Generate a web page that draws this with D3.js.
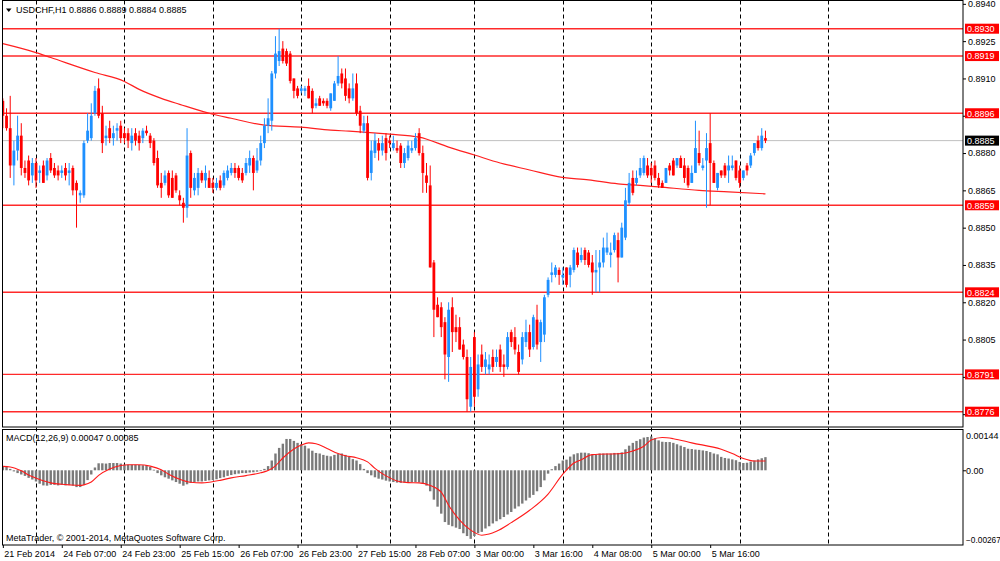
<!DOCTYPE html>
<html><head><meta charset="utf-8">
<script src="https://cdn.jsdelivr.net/npm/d3@7"></script>
<style>
html,body{margin:0;padding:0;background:#fff;}
svg{display:block;}
text{font-family:"Liberation Sans",Arial,sans-serif;font-size:9px;fill:#000;}
</style>
</head><body>
<svg id="c" width="1000" height="561"></svg>
<script>
// ---------------- DATA ----------------
const symbolTitle = "USDCHF,H1";
const lastOHLC = ["0.8886", "0.8889", "0.8884", "0.8885"];
const macdTitle = "MACD(12,26,9) 0.00047 0.00085";
const copyrightText = "MetaTrader, \u00A9 2001-2014, MetaQuotes Software Corp.";

// trading sessions (one per day) : label, number of hourly bars
const sessionDays = ["21 Feb", "24 Feb", "25 Feb", "26 Feb", "27 Feb", "28 Feb", "3 Mar", "4 Mar", "5 Mar", "6 Mar"];
const sessionBars = [9, 24, 24, 24, 24, 23, 24, 24, 24, 8];

const timeTickLabels = ["21 Feb 2014", "24 Feb 07:00", "24 Feb 23:00", "25 Feb 15:00", "26 Feb 07:00",
  "26 Feb 23:00", "27 Feb 15:00", "28 Feb 07:00", "3 Mar 00:00", "3 Mar 16:00", "4 Mar 08:00",
  "5 Mar 00:00", "5 Mar 16:00"];
const timeTickBars = [0, 16, 32, 48, 64, 80, 96, 112, 128, 144, 160, 176, 192];

const priceTicks = [0.8940, 0.8925, 0.8910, 0.8895, 0.8880, 0.8865, 0.8850, 0.8835, 0.8820, 0.8805, 0.8790, 0.8775];
const hiddenPriceTicks = [0.8895, 0.8790, 0.8775]; // covered by level labels in the picture
const levelLines = [0.8930, 0.8919, 0.8896, 0.8859, 0.8824, 0.8791, 0.8776];
const bidPrice = 0.8885;
const priceMin = 0.8776, priceMax = 0.8930;
const macdMax = 0.00144, macdMin = -0.00267;

const barOpen = [
.8901,.8895,.8890,.8875,.8881,.8887,.8874,.8877,.8871,.8876,
.8872,.8875,.8871,.8878,.8874,.8873,.8872,.8874,.8872,.8874,
.8868,.8863,.8863,.8885,.8886,.8896,.8906,.8896,.8886,.8890,
.8886,.8889,.8891,.8888,.8888,.8884,.8888,.8887,.8886,.8889,
.8887,.8885,.8878,.8868,.8868,.8872,.8870,.8871,.8863,.8860,
.8858,.8880,.8865,.8866,.8872,.8869,.8870,.8868,.8866,.8869,
.8867,.8870,.8872,.8874,.8874,.8872,.8872,.8875,.8878,.8873,
.8877,.8884,.8891,.8893,.8912,.8917,.8922,.8921,.8920,.8910,
.8906,.8905,.8905,.8907,.8905,.8899,.8902,.8901,.8901,.8898,
.8901,.8908,.8912,.8910,.8906,.8902,.8908,.8897,.8889,.8892,
.8872,.8880,.8884,.8881,.8886,.8885,.8882,.8882,.8883,.8876,
.8878,.8881,.8882,.8888,.8880,.8871,.8867,.8836,.8819,.8818,
.8812,.8798,.8818,.8810,.8810,.8803,.8798,.8778,.8806,.8785,
.8799,.8794,.8793,.8798,.8796,.8801,.8795,.8794,.8808,.8806,
.8800,.8797,.8804,.8808,.8802,.8813,.8804,.8807,.8823,.8831,
.8831,.8833,.8830,.8834,.8831,.8833,.8840,.8837,.8841,.8840,
.8836,.8832,.8834,.8836,.8840,.8839,.8841,.8845,.8838,.8846,
.8860,.8870,.8868,.8871,.8872,.8875,.8874,.8875,.8870,.8868,
.8868,.8875,.8877,.8875,.8878,.8875,.8874,.8868,.8872,.8880,
.8874,.8877,.8884,.8876,.8866,.8873,.8875,.8873,.8874,.8877,
.8873,.8870,.8875,.8875,.8880,.8885,.8882,.8886];
const barHigh = [
.8902,.8898,.8903,.8885,.8895,.8892,.8877,.8879,.8878,.8878,
.8875,.8877,.8878,.8880,.8876,.8875,.8875,.8876,.8876,.8875,
.8869,.8865,.8885,.8896,.8900,.8907,.8910,.8899,.8891,.8893,
.8891,.8892,.8893,.8890,.8890,.8890,.8890,.8889,.8890,.8891,
.8888,.8886,.8881,.8872,.8873,.8873,.8873,.8872,.8865,.8862,
.8890,.8881,.8872,.8874,.8873,.8875,.8873,.8870,.8870,.8871,
.8873,.8875,.8876,.8876,.8875,.8874,.8878,.8881,.8879,.8882,
.8887,.8894,.8902,.8913,.8927,.8930,.8925,.8922,.8921,.8910,
.8907,.8907,.8907,.8910,.8906,.8902,.8903,.8902,.8902,.8904,
.8909,.8919,.8914,.8914,.8908,.8912,.8912,.8899,.8895,.8895,
.8885,.8888,.8886,.8887,.8888,.8887,.8887,.8885,.8884,.8882,
.8885,.8885,.8888,.8890,.8883,.8876,.8875,.8837,.8822,.8820,
.8814,.8820,.8822,.8815,.8814,.8805,.8801,.8798,.8808,.8799,
.8803,.8800,.8799,.8801,.8801,.8803,.8799,.8808,.8809,.8810,
.8803,.8808,.8813,.8811,.8815,.8819,.8813,.8823,.8830,.8836,
.8835,.8834,.8834,.8834,.8835,.8842,.8842,.8842,.8842,.8841,
.8839,.8841,.8841,.8846,.8848,.8844,.8848,.8848,.8852,.8866,
.8872,.8873,.8873,.8878,.8879,.8878,.8876,.8877,.8872,.8869,
.8874,.8876,.8878,.8878,.8879,.8878,.8875,.8875,.8893,.8889,
.8878,.8888,.8896,.8877,.8872,.8873,.8876,.8879,.8879,.8877,
.8875,.8873,.8876,.8880,.8884,.8887,.8890,.8889];
const barLow = [
.8890,.8889,.8870,.8867,.8877,.8871,.8870,.8867,.8868,.8866,
.8868,.8868,.8869,.8872,.8870,.8869,.8870,.8869,.8867,.8863,
.8850,.8860,.8862,.8884,.8885,.8895,.8894,.8880,.8883,.8884,
.8883,.8885,.8884,.8884,.8882,.8881,.8883,.8881,.8884,.8887,
.8882,.8875,.8866,.8862,.8867,.8862,.8862,.8864,.8859,.8852,
.8854,.8862,.8863,.8863,.8868,.8866,.8866,.8864,.8865,.8865,
.8866,.8869,.8871,.8870,.8869,.8868,.8871,.8872,.8865,.8872,
.8875,.8882,.8888,.8889,.8910,.8915,.8916,.8915,.8908,.8902,
.8902,.8904,.8903,.8902,.8896,.8898,.8899,.8899,.8898,.8897,
.8901,.8907,.8906,.8901,.8900,.8901,.8895,.8888,.8888,.8869,
.8869,.8878,.8877,.8879,.8877,.8882,.8881,.8880,.8874,.8874,
.8877,.8880,.8881,.8879,.8864,.8864,.8834,.8806,.8814,.8806,
.8789,.8788,.8800,.8804,.8801,.8797,.8776,.8776,.8778,.8782,
.8792,.8791,.8791,.8792,.8794,.8792,.8790,.8793,.8802,.8799,
.8791,.8795,.8802,.8798,.8801,.8801,.8796,.8804,.8822,.8828,
.8830,.8827,.8827,.8826,.8826,.8832,.8834,.8836,.8835,.8834,
.8823,.8824,.8824,.8834,.8839,.8834,.8840,.8828,.8838,.8845,
.8859,.8863,.8867,.8870,.8871,.8870,.8868,.8869,.8866,.8866,
.8868,.8871,.8871,.8874,.8874,.8868,.8866,.8868,.8872,.8875,
.8873,.8858,.8859,.8868,.8865,.8870,.8870,.8868,.8873,.8869,
.8866,.8869,.8871,.8874,.8879,.8881,.8881,.8884];
const barClose = [
.8895,.8890,.8875,.8881,.8887,.8874,.8872,.8869,.8876,.8869,
.8873,.8868,.8877,.8873,.8871,.8871,.8873,.8871,.8873,.8865,
.8865,.8864,.8884,.8889,.8895,.8905,.8895,.8884,.8887,.8886,
.8888,.8890,.8886,.8886,.8885,.8887,.8885,.8884,.8889,.8888,
.8884,.8876,.8867,.8866,.8871,.8863,.8862,.8865,.8861,.8858,
.8879,.8866,.8870,.8872,.8869,.8872,.8866,.8866,.8868,.8866,
.8872,.8873,.8874,.8872,.8870,.8869,.8876,.8878,.8872,.8877,
.8884,.8891,.8894,.8912,.8920,.8921,.8917,.8916,.8909,.8905,
.8903,.8906,.8906,.8902,.8898,.8900,.8899,.8900,.8899,.8904,
.8908,.8911,.8908,.8903,.8902,.8906,.8896,.8891,.8892,.8870,
.8881,.8885,.8881,.8884,.8880,.8884,.8884,.8881,.8876,.8880,
.8883,.8882,.8886,.8880,.8872,.8868,.8834,.8817,.8814,.8810,
.8799,.8817,.8808,.8808,.8801,.8798,.8781,.8794,.8782,.8795,
.8794,.8797,.8795,.8794,.8798,.8794,.8794,.8806,.8804,.8801,
.8792,.8806,.8808,.8801,.8814,.8803,.8812,.8822,.8829,.8832,
.8834,.8831,.8831,.8827,.8834,.8841,.8835,.8839,.8837,.8835,
.8832,.8833,.8836,.8842,.8842,.8840,.8847,.8838,.8850,.8861,
.8868,.8864,.8870,.8874,.8878,.8871,.8871,.8870,.8867,.8866,
.8874,.8873,.8871,.8878,.8874,.8870,.8867,.8872,.8882,.8876,
.8875,.8882,.8876,.8868,.8872,.8871,.8871,.8875,.8875,.8870,
.8868,.8873,.8873,.8879,.8884,.8882,.8887,.8885];

// moving average read at selected bars
const maBars = [0, 9, 13, 25, 33, 37, 43, 48, 57, 62, 71, 81, 89, 94, 105, 113, 121, 128, 135, 143, 151, 159, 167, 173, 178, 189, 197, 207];
const maValues = [0.89240, 0.89204, 0.89184, 0.89124, 0.89088, 0.89056, 0.89020, 0.88996, 0.88956, 0.88940, 0.88912,
  0.88904, 0.88892, 0.88888, 0.88876, 0.88864, 0.88824, 0.88792, 0.88760, 0.88732, 0.88704, 0.88692, 0.88676,
  0.88670, 0.88664, 0.88650, 0.88644, 0.88636];

// MACD histogram, one value per bar
const macdHist = [
0.00012,0.00012,0.00005,-0.00004,-0.0001,-0.00015,-0.0002,-0.00027,-0.00033,-0.0004,
-0.00048,-0.00054,-0.00055,-0.00052,-0.00052,-0.00054,-0.00052,-0.00054,-0.00052,-0.00055,
-0.0006,-0.0006,-0.00052,-0.00035,-0.00015,0.0001,0.00025,0.00025,0.00024,0.00026,
0.00026,0.00026,0.00024,0.0002,0.0002,0.0002,0.0002,0.00019,0.00018,0.00018,
0.00012,0.00002,-0.0001,-0.00018,-0.00025,-0.0003,-0.00036,-0.00042,-0.00048,-0.00055,
-0.0005,-0.00045,-0.00042,-0.0004,-0.0004,-0.00038,-0.00036,-0.00035,-0.00032,-0.00028,
-0.00025,-0.0002,-0.00017,-0.00014,-0.00012,-0.0001,-0.0001,-0.00008,-0.00007,-0.00005,
-0.00002,0.00005,0.00015,0.00035,0.0006,0.0008,0.00095,0.00112,0.00112,0.00105,
0.00098,0.00093,0.00088,0.00078,0.0007,0.00062,0.0006,0.00055,0.00052,0.0005,
0.00055,0.00058,0.0006,0.00055,0.00048,0.0004,0.00035,0.00022,0.00005,-0.0001,
-0.00018,-0.00025,-0.0003,-0.00033,-0.00037,-0.0004,-0.00042,-0.00044,-0.00045,-0.00044,
-0.00043,-0.00042,-0.00042,-0.00043,-0.00048,-0.00055,-0.00075,-0.00105,-0.0013,-0.00155,
-0.00185,-0.00195,-0.002,-0.00205,-0.0021,-0.00225,-0.00235,-0.00245,-0.00235,-0.00225,
-0.0022,-0.00208,-0.002,-0.0019,-0.00182,-0.00175,-0.00167,-0.00158,-0.00149,-0.00137,
-0.00129,-0.00119,-0.00108,-0.00098,-0.00088,-0.00075,-0.0006,-0.00036,-0.00012,0.00004,
0.00015,0.00024,0.00035,0.00038,0.00049,0.00057,0.00061,0.00063,0.00063,0.00061,
0.00056,0.00056,0.0006,0.0006,0.0006,0.0006,0.00062,0.00062,0.00064,0.00075,
0.00088,0.00098,0.00105,0.00111,0.00117,0.00119,0.00121,0.00115,0.00107,0.00102,
0.00101,0.00101,0.00098,0.00093,0.00088,0.00083,0.00077,0.00076,0.00074,0.00073,
0.00071,0.00069,0.00065,0.0006,0.00057,0.00048,0.00044,0.00042,0.00039,0.00036,
0.0003,0.00026,0.00027,0.00031,0.00035,0.00039,0.00043,0.00047];

// MACD signal line read at selected bars
const signalBars = [0, 2, 5, 7, 10, 13, 16, 18, 21, 22, 24, 26, 29, 32, 34, 37, 40, 43, 45, 48, 51, 54, 56, 59, 62, 66, 70, 72, 74, 76,
  79, 81, 83, 85, 88, 91, 93, 96, 99, 101, 104, 107, 110, 113, 116, 119, 121, 124, 127, 130, 132, 134, 138, 143, 148, 152,
  155, 157, 160, 168, 171, 174, 176, 179, 182, 187, 195, 198, 201, 204, 207];
const signalValues = [0.00014, 0.00012, -0.00002, -0.00017, -0.00033, -0.00045, -0.0005, -0.00052, -0.00054, -0.00052,
  -0.00042, -0.00018, 0.00005, 0.00017, 0.0002, 0.0002, 0.00015, 0.00002, -0.00014, -0.00032, -0.00043, -0.00045,
  -0.00043, -0.00036, -0.00027, -0.00019, -0.00009, -0.00001, 0.00016, 0.00044, 0.00076, 0.0009, 0.00098, 0.00095,
  0.00078, 0.0006, 0.00052, 0.00045, 0.0003, 0.00007, -0.0002, -0.00038, -0.00044, -0.00045, -0.00054, -0.00078,
  -0.00125, -0.00178, -0.00214, -0.00232, -0.00228, -0.00218, -0.00187, -0.00143, -0.00085, -0.00014, 0.00026,
  0.00038, 0.00056, 0.0006, 0.00069, 0.00086, 0.00108, 0.00117, 0.00113, 0.00098, 0.00075, 0.0006, 0.00042,
  0.00033, 0.00033];

// ---------------- DRAWING ----------------
const svg = d3.select("#c");
const L = 2.5, R = 963, PT = 0.5, PB = 427, MT = 429.5, MB = 545;
const BLUE = "#1e90ff", RED = "#ff0000";
const FONT = "Liberation Sans, Arial, sans-serif";

const x = d3.scaleLinear().domain([0, 215]).range([2.85, 2.85 + 215 * 3.684]);
const y = d3.scaleLinear().domain([priceMin, priceMax]).range([411.7, 28.7]);
const ym = d3.scaleLinear().domain([macdMin, macdMax]).range([MB, MT + 0.5]);

svg.append("rect").attr("width", 1000).attr("height", 561).attr("fill", "#fff");

const defs = svg.append("defs");
defs.append("clipPath").attr("id", "cp").append("rect").attr("x", L).attr("y", PT).attr("width", R - L).attr("height", PB - PT);
defs.append("clipPath").attr("id", "cm").append("rect").attr("x", L).attr("y", MT).attr("width", R - L).attr("height", MB - MT);

// day separators (session starts)
const dayStarts = [];
let acc = 0;
sessionBars.forEach((n, k) => { if (k > 0) dayStarts.push(acc); acc += n; });
dayStarts.push(dayStarts[dayStarts.length - 1] + 24);

svg.append("g").selectAll("line").data(dayStarts).join("line")
  .attr("x1", d => Math.round(x(d)) + 0.5).attr("x2", d => Math.round(x(d)) + 0.5)
  .attr("y1", PT).attr("y2", MB)
  .attr("stroke", "#000").attr("stroke-width", 1).attr("stroke-dasharray", "4,3");

const gp = svg.append("g").attr("clip-path", "url(#cp)");

// bid line
gp.append("line").attr("x1", L).attr("x2", R).attr("y1", y(bidPrice)).attr("y2", y(bidPrice))
  .attr("stroke", "#c0c0c0").attr("stroke-width", 1);

// horizontal level lines
gp.append("g").selectAll("line").data(levelLines).join("line")
  .attr("x1", L).attr("x2", R).attr("y1", d => y(d)).attr("y2", d => y(d))
  .attr("stroke", "#ff2a2a").attr("stroke-width", 1.4);

// moving average
gp.append("path").datum(maBars.map((b, k) => [b, maValues[k]]))
  .attr("d", d3.line().x(d => x(d[0])).y(d => y(d[1])).curve(d3.curveMonotoneX))
  .attr("fill", "none").attr("stroke", "#ff2020").attr("stroke-width", 1.2);

// candles
const bars = barClose.map((c, i) => ({ i, o: barOpen[i], h: barHigh[i], l: barLow[i], c }));
const cg = gp.append("g");
cg.selectAll("line").data(bars).join("line")
  .attr("x1", d => x(d.i)).attr("x2", d => x(d.i))
  .attr("y1", d => y(d.h)).attr("y2", d => y(d.l))
  .attr("stroke", d => d.c >= d.o ? BLUE : RED).attr("stroke-width", 1);
cg.selectAll("rect").data(bars).join("rect")
  .attr("x", d => x(d.i) - 1.4).attr("width", 2.8)
  .attr("y", d => Math.min(y(d.o), y(d.c)))
  .attr("height", d => Math.max(1, Math.abs(y(d.o) - y(d.c))))
  .attr("fill", d => d.c >= d.o ? BLUE : RED);

// MACD panel
const gm = svg.append("g").attr("clip-path", "url(#cm)");
gm.selectAll("rect").data(macdHist).join("rect")
  .attr("x", (d, i) => x(i) - 1.2).attr("width", 2.4)
  .attr("y", d => Math.min(ym(0), ym(d)))
  .attr("height", d => Math.max(0.8, Math.abs(ym(d) - ym(0))))
  .attr("fill", "#7a7a7a");
gm.append("path").datum(signalBars.map((b, k) => [b, signalValues[k]]))
  .attr("d", d3.line().x(d => x(d[0])).y(d => ym(d[1])).curve(d3.curveMonotoneX))
  .attr("fill", "none").attr("stroke", "#ff1a1a").attr("stroke-width", 1.1);

// frames
svg.append("rect").attr("x", L).attr("y", PT).attr("width", R - L).attr("height", PB - PT)
  .attr("fill", "none").attr("stroke", "#000").attr("stroke-width", 1);
svg.append("rect").attr("x", L).attr("y", MT).attr("width", R - L).attr("height", MB - MT)
  .attr("fill", "none").attr("stroke", "#000").attr("stroke-width", 1);

// price axis
const pa = svg.append("g").attr("transform", `translate(${R},0)`)
  .call(d3.axisRight(y).tickValues(priceTicks).tickFormat(d3.format(".4f")).tickSizeInner(3).tickSizeOuter(0).tickPadding(2));
pa.select(".domain").remove();
pa.selectAll("text").style("font-family", FONT).style("font-size", "9px");
pa.selectAll(".tick text").filter(d => hiddenPriceTicks.some(h => Math.abs(h - d) < 1e-7)).remove();

// level labels on the axis
const lab = svg.append("g");
const allLabels = levelLines.map(v => ({ v, bg: RED })).concat([{ v: bidPrice, bg: "#000" }]);
lab.selectAll("rect").data(allLabels).join("rect")
  .attr("x", R + 2).attr("y", d => y(d.v) - 5).attr("width", 34).attr("height", 10)
  .attr("fill", d => d.bg);
lab.selectAll("text").data(allLabels).join("text")
  .attr("x", R + 4).attr("y", d => y(d.v) + 3.3)
  .style("fill", "#fff").text(d => d3.format(".4f")(d.v));

// MACD axis
const ma = svg.append("g").attr("transform", `translate(${R},0)`)
  .call(d3.axisRight(ym).tickValues([macdMax, 0, macdMin])
    .tickFormat(d => d === 0 ? "0.00" : d3.format(".5f")(d)).tickSizeInner(3).tickSizeOuter(0).tickPadding(0));
ma.select(".domain").remove();
ma.selectAll("text").style("font-family", FONT).style("font-size", d => d === macdMin ? "8.3px" : "9px")
  .attr("dy", d => d === macdMax ? "0.95em" : (d === macdMin ? "-0.35em" : "0.32em"));
ma.selectAll(".tick line").filter(d => d !== 0).remove();

// time axis
const ta = svg.append("g").attr("transform", `translate(0,${MB})`)
  .call(d3.axisBottom(x).tickValues(timeTickBars).tickFormat((d, k) => timeTickLabels[k]).tickSizeInner(3).tickSizeOuter(0));
ta.select(".domain").remove();
ta.selectAll(".tick line").attr("stroke", "#000");
ta.selectAll("text").attr("text-anchor", "start").attr("x", 1).attr("y", 6)
  .attr("dy", "0.71em").style("font-family", FONT).style("font-size", "9px");

// titles
svg.append("path").attr("d", "M6,8.5 L11.5,8.5 L8.75,12 Z").attr("fill", "#000");
svg.append("text").attr("x", 16).attr("y", 12.5).text(symbolTitle + "  " + lastOHLC.join(" "));
svg.append("text").attr("x", 6).attr("y", 441).text(macdTitle);
svg.append("text").attr("x", 6).attr("y", 541).text(copyrightText);
</script>
</body></html>
